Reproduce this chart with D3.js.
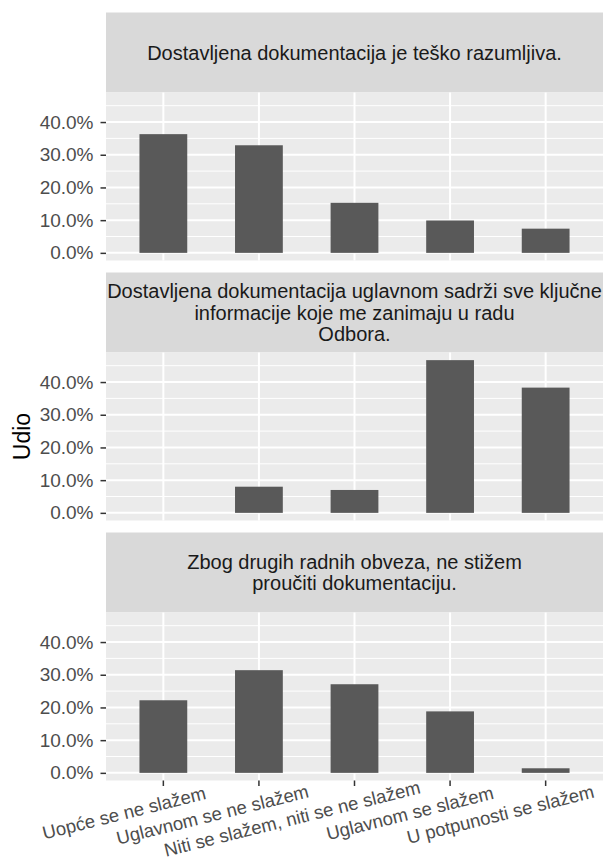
<!DOCTYPE html>
<html>
<head>
<meta charset="utf-8">
<script src="https://cdn.jsdelivr.net/npm/d3@7"></script>
<style>
  html, body { margin: 0; padding: 0; background: #fff; }
  text { font-family: "Liberation Sans", Arial, sans-serif; }
</style>
</head>
<body>
<div id="chart"></div>
<script>
// answer categories (x axis)
const categories = [
    "Uopće se ne slažem",
    "Uglavnom se ne slažem",
    "Niti se slažem, niti se ne slažem",
    "Uglavnom se slažem",
    "U potpunosti se slažem"
];

// facet strip titles, already broken into lines
const titleTesko = ["Dostavljena dokumentacija je teško razumljiva."];
const titleSadrzi = ["Dostavljena dokumentacija uglavnom sadrži sve ključne",
                     "informacije koje me zanimaju u radu", "Odbora."];
const titleObveze = ["Zbog drugih radnih obveza, ne stižem", "proučiti dokumentaciju."];

// shares in percent, one value per category (null = no bar)
const shareTesko = [36.3, 32.9, 15.3, 9.9, 7.4];
const shareSadrzi = [null, 8.0, 7.0, 46.7, 38.3];
const shareObveze = [22.2, 31.4, 27.1, 18.8, 1.4];

const yTicks = [0, 10, 20, 30, 40];
const yMinorTicks = [5, 15, 25, 35, 45];

const facets = [
    {title: titleTesko, values: shareTesko},
    {title: titleSadrzi, values: shareSadrzi},
    {title: titleObveze, values: shareObveze}
];

let width = 603, height = 862;
let panelLeft = 106, panelRight = 603;
let plotTop = 12.5, stripH = 80, panelH = 168, gap = 12;

let svg = d3.select("#chart")
    .append("svg")
    .attr("width", width)
    .attr("height", height);

let x = d3.scaleBand()
    .domain(categories)
    .range([panelLeft, panelRight])
    .paddingInner(0.5)
    .paddingOuter(0.35);

let maxVal = d3.max(facets, f => d3.max(f.values));
let fmt = d => d.toFixed(1) + "%";

facets.forEach(function (f, i) {
    let stripY = plotTop + i * (stripH + panelH + gap);
    let panelY = stripY + stripH;

    let y = d3.scaleLinear()
        .domain([-0.05 * maxVal, 1.05 * maxVal])
        .range([panelY + panelH, panelY]);

    let g = svg.append("g");

    // strip
    g.append("rect")
        .attr("x", panelLeft).attr("y", stripY)
        .attr("width", panelRight - panelLeft).attr("height", stripH)
        .attr("fill", "#D9D9D9");

    let lineH = 21.5;
    let firstY = stripY + stripH / 2 - (f.title.length - 1) * lineH / 2 + 7;
    g.selectAll(".strip-text")
        .data(f.title)
        .enter().append("text")
        .attr("x", (panelLeft + panelRight) / 2)
        .attr("y", (d, k) => firstY + k * lineH)
        .attr("text-anchor", "middle")
        .attr("fill", "#1A1A1A")
        .style("font-size", "20px")
        .text(d => d);

    // panel
    g.append("rect")
        .attr("x", panelLeft).attr("y", panelY)
        .attr("width", panelRight - panelLeft).attr("height", panelH)
        .attr("fill", "#EBEBEB");

    g.selectAll(".minor")
        .data(yMinorTicks.filter(t => y(t) > panelY))
        .enter().append("line")
        .attr("x1", panelLeft).attr("x2", panelRight)
        .attr("y1", d => y(d)).attr("y2", d => y(d))
        .attr("stroke", "#fff").attr("stroke-width", 1);

    g.selectAll(".major")
        .data(yTicks)
        .enter().append("line")
        .attr("x1", panelLeft).attr("x2", panelRight)
        .attr("y1", d => y(d)).attr("y2", d => y(d))
        .attr("stroke", "#fff").attr("stroke-width", 2);

    g.selectAll(".vgrid")
        .data(categories)
        .enter().append("line")
        .attr("x1", d => x(d) + x.bandwidth() / 2)
        .attr("x2", d => x(d) + x.bandwidth() / 2)
        .attr("y1", panelY).attr("y2", panelY + panelH)
        .attr("stroke", "#fff").attr("stroke-width", 2);

    // bars
    let bars = categories.map((c, k) => ({cat: c, value: f.values[k]}))
        .filter(d => d.value !== null);

    g.selectAll(".bar")
        .data(bars)
        .enter().append("rect")
        .attr("x", d => x(d.cat))
        .attr("width", x.bandwidth())
        .attr("y", d => y(d.value))
        .attr("height", d => y(0) - y(d.value))
        .attr("fill", "#595959");

    // y axis
    let yAxis = d3.axisLeft(y)
        .tickValues(yTicks)
        .tickFormat(fmt)
        .tickSize(5.5)
        .tickPadding(7);

    let ya = g.append("g")
        .attr("transform", "translate(" + panelLeft + ",0)")
        .call(yAxis)
        .attr("font-size", 19)
        .attr("font-family", "'Liberation Sans', Arial, sans-serif");
    ya.select(".domain").remove();
    ya.selectAll(".tick line").attr("stroke", "#333333").attr("stroke-width", 1.5);
    ya.selectAll(".tick text")
        .attr("fill", "#4D4D4D")
        .style("font-size", "19px");

    // x axis only under the last panel
    if (i === facets.length - 1) {
        let xAxis = d3.axisBottom(x).tickSize(5.5).tickFormat("");
        let xa = g.append("g")
            .attr("transform", "translate(0," + (panelY + panelH) + ")")
            .call(xAxis);
        xa.select(".domain").remove();
        xa.selectAll(".tick line").attr("stroke", "#333333").attr("stroke-width", 1.5);

        let labels = g.selectAll(".xlab")
            .data(categories)
            .enter().append("g")
            .attr("transform", d => "translate(" + (x(d) + x.bandwidth() / 2 + 3) + "," +
                (panelY + panelH + 28.5) + ") rotate(-14)");

        labels.append("text")
            .attr("fill", "#4D4D4D")
            .style("font-size", "18.5px")
            .text(d => d)
            .attr("x", function () { return -0.75 * this.getComputedTextLength(); });
    }
});

// y title, centred on the panel area
let titleMid = (plotTop + stripH + (plotTop + 3 * (stripH + panelH) + 2 * gap)) / 2;
svg.append("text")
    .attr("transform", "translate(30," + titleMid + ") rotate(-90)")
    .attr("text-anchor", "middle")
    .attr("fill", "#000")
    .style("font-size", "23px")
    .text("Udio");
</script>
</body>
</html>
